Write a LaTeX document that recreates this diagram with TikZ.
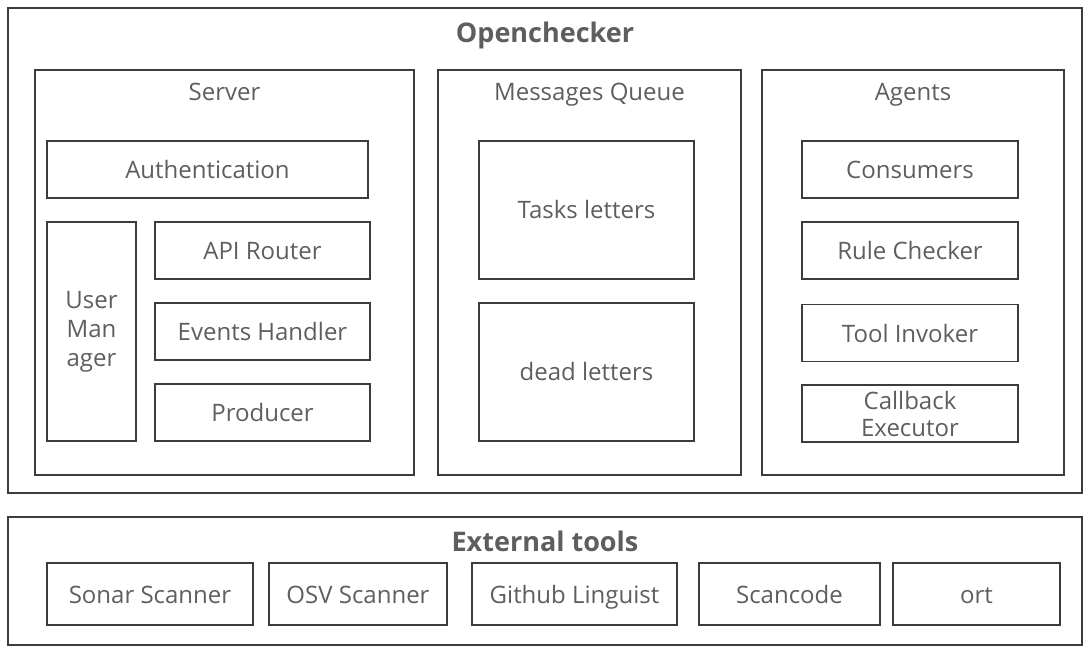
\documentclass[tikz,border=0pt]{standalone}
\usepackage{fontspec}
\setmainfont{Open Sans}
\definecolor{linegray}{HTML}{3C3C3C}
\definecolor{textgray}{HTML}{5E5E5E}
\tikzset{
    box/.style={draw=linegray, line width=1.4pt, rectangle, inner sep=0pt,
        text=textgray, align=center, font=\fontsize{24}{29}\selectfont},
    one line/.style={text height=20pt, text depth=2pt},
    frame/.style={draw=linegray, line width=1.4pt, rectangle, inner sep=0pt},
    frame label/.style={anchor=center, text=textgray, text height=17pt, text depth=5pt,
        font=\fontsize{24}{29}\selectfont},
    head label/.style={anchor=center, text=textgray, text height=19pt, text depth=6pt,
        font=\fontsize{27}{32}\selectfont\bfseries}
}
\begin{document}
\begin{tikzpicture}[x=1pt, y=-1pt]

    \useasboundingbox (0,0) rectangle (1090,652);

    % Outer frame with title
    \node[frame,
        minimum width=1074pt,
        minimum height=485pt,
        label={[head label, yshift=-29pt]north:Openchecker}] (oc_frame) at (545,250.5){};

    % Server frame
    \node[frame,
        minimum width=379pt,
        minimum height=405pt,
        label={[frame label, yshift=-25pt]north:Server}] (srv_frame) at (224.5,272.5){};

    % Messages queue frame
    \node[frame,
        minimum width=303pt,
        minimum height=405pt,
        label={[frame label, yshift=-25pt]north:Messages Queue}] (mq_frame) at (589.5,272.5){};

    % Agents frame
    \node[frame,
        minimum width=302pt,
        minimum height=405pt,
        label={[frame label, yshift=-25pt]north:Agents}] (ag_frame) at (913,272.5){};

    % Server parts
    \node[box, one line, minimum width=321pt, minimum height=57pt] (auth) at (207.5,169.5){Authentication};
    \node[box, minimum width=89pt, minimum height=219pt] (user_mgr) at (91.5,331.5){User\\Man\\ager};
    \node[box, one line, minimum width=215pt, minimum height=57pt] (api_router) at (262.5,250.5){API Router};
    \node[box, one line, minimum width=215pt, minimum height=57pt] (ev_handler) at (262.5,331.5){Events Handler};
    \node[box, one line, minimum width=215pt, minimum height=57pt] (producer) at (262.5,412.5){Producer};

    % Queue parts
    \node[box, one line, minimum width=215pt, minimum height=138pt] (tasks_q) at (586.5,210){Tasks letters};
    \node[box, one line, minimum width=215pt, minimum height=138pt] (dead_q) at (586.5,372){dead letters};

    % Agent parts
    \node[box, one line, minimum width=216pt, minimum height=57pt] (consumers) at (910,169.5){Consumers};
    \node[box, one line, minimum width=216pt, minimum height=57pt] (rule_chk) at (910,250.5){Rule Checker};
    \node[box, one line, minimum width=216pt, minimum height=57pt] (tool_inv) at (910,333){Tool Invoker};
    \node[box, minimum width=216pt, minimum height=57pt] (cb_exec) at (910,413.5){Callback\\[-2pt]Executor};

    % External tools frame with title
    \node[frame,
        minimum width=1074pt,
        minimum height=128pt,
        label={[head label, yshift=-29pt]north:External tools}] (ext_frame) at (545,581){};

    % Tools
    \node[box, one line, minimum width=206pt, minimum height=62pt] (sonar) at (150,594){Sonar Scanner};
    \node[box, one line, minimum width=178pt, minimum height=62pt] (osv) at (358,594){OSV Scanner};
    \node[box, one line, minimum width=205pt, minimum height=62pt] (linguist) at (574.5,594){Github Linguist};
    \node[box, one line, minimum width=181pt, minimum height=62pt] (scancode) at (789.5,594){Scancode};
    \node[box, one line, minimum width=167pt, minimum height=62pt] (ort) at (976.5,594){ort};

\end{tikzpicture}
\end{document}
